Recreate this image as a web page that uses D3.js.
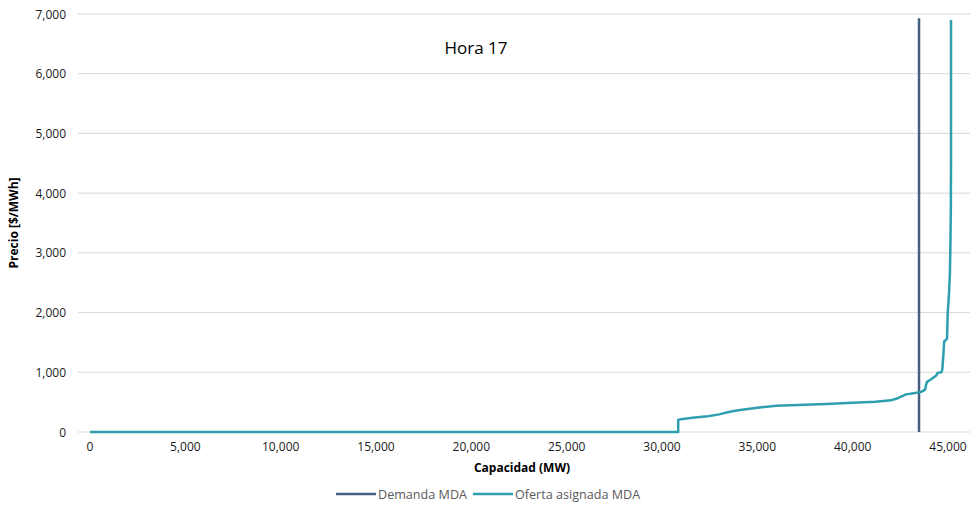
<!DOCTYPE html>
<html><head><meta charset="utf-8">
<script src="https://cdn.jsdelivr.net/npm/d3@7"></script>
<style>body{margin:0;background:#fff;}svg{display:block;font-family:"Open Sans","Noto Sans",sans-serif;}</style>
</head><body><svg id="c" width="976" height="508"></svg>
<script>
const title = "Hora 17";
const xTicks = [0,5000,10000,15000,20000,25000,30000,35000,40000,45000];
const yTicks = [0,1000,2000,3000,4000,5000,6000,7000];
const demandMW = 43480;
const demandTop = 6930;
const offerCapacity = [0,30850,30850,31000,31600,32400,33000,33500,34000,35000,36000,37500,38600,40000,41200,42000,42400,42800,43200,43600,43800,43850,43900,44100,44400,44450,44650,44700,44760,44800,44900,44950,44985,45050,45100,45130,45150,45157,45157];
const offerPrice =    [0,0,200,215,240,265,295,335,365,405,440,455,470,490,508,530,570,630,650,672,710,790,840,880,950,990,1000,1040,1300,1520,1545,1565,1990,2300,2650,3200,3780,4500,6900];
const seriesNames = ["Demanda MDA","Oferta asignada MDA"];
const colors = ["#44607f","#2e9fae"];

const svg = d3.select("#c");
const x = d3.scaleLinear().domain([0,45000]).range([90,948]);
const y = d3.scaleLinear().domain([0,7000]).range([432,14]);
const gridL = 78, gridR = 970;

// gridlines
svg.append("g").selectAll("line").data(yTicks).join("line")
  .attr("x1",gridL).attr("x2",gridR).attr("y1",d=>y(d)).attr("y2",d=>y(d))
  .attr("stroke","#d9d9d9").attr("stroke-width",1);

// y tick labels
svg.append("g").selectAll("text").data(yTicks).join("text")
  .attr("x",66).attr("y",d=>y(d)+4.5).attr("text-anchor","end")
  .attr("font-size",12).attr("fill","#1a1a1a").text(d=>d3.format(",")(d));
// x tick labels
svg.append("g").selectAll("text").data(xTicks).join("text")
  .attr("x",d=>x(d)).attr("y",451).attr("text-anchor","middle")
  .attr("font-size",12).attr("fill","#1a1a1a").text(d=>d3.format(",")(d));

// axis titles
svg.append("text").attr("x",522).attr("y",472).attr("text-anchor","middle")
  .attr("font-size",12).attr("font-weight","bold").attr("fill","#000").text("Capacidad (MW)");
svg.append("text").attr("transform","translate(18,223) rotate(-90)").attr("text-anchor","middle")
  .attr("font-size",12).attr("font-weight","bold").attr("fill","#000").text("Precio [$/MWh]");

// title
svg.append("text").attr("x",476).attr("y",54).attr("text-anchor","middle")
  .attr("font-size",17).attr("fill","#000").text(title);

// demand line
svg.append("line").attr("x1",x(demandMW)).attr("x2",x(demandMW))
  .attr("y1",y(0)).attr("y2",y(demandTop)).attr("stroke",colors[0]).attr("stroke-width",2.5);

// offer curve
const offer = offerCapacity.map((c,i)=>({c, p:offerPrice[i]}));
svg.append("path").datum(offer)
  .attr("d",d3.line().x(d=>x(d.c)).y(d=>y(d.p)))
  .attr("fill","none").attr("stroke",colors[1]).attr("stroke-width",2.5).attr("stroke-linejoin","round");

// legend
const leg = svg.append("g");
const legItems = [{n:seriesNames[0],c:colors[0],x:336},{n:seriesNames[1],c:colors[1],x:473}];
legItems.forEach(it=>{
  leg.append("line").attr("x1",it.x).attr("x2",it.x+40).attr("y1",494).attr("y2",494)
    .attr("stroke",it.c).attr("stroke-width",2.5);
  leg.append("text").attr("x",it.x+42).attr("y",498.5).attr("font-size",12.6).attr("fill","#595959").text(it.n);
});
</script></body></html>
